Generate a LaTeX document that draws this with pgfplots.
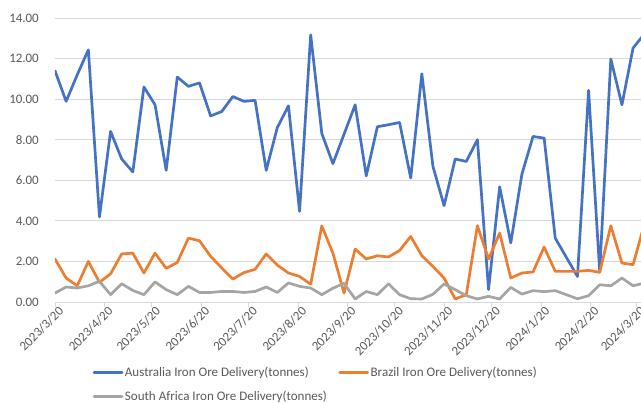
\documentclass[border=0pt]{standalone}
\usepackage{fontspec}
\setmainfont{Carlito}
\usepackage{pgfplots}
\pgfplotsset{compat=1.18}
\definecolor{cAU}{HTML}{4472C4}
\definecolor{cBR}{HTML}{ED7D31}
\definecolor{cZA}{HTML}{A5A5A5}
\definecolor{cGrid}{HTML}{D9D9D9}
\definecolor{cTxt}{HTML}{595959}
\newcommand{\fs}{\fontsize{13}{14}\selectfont}
\newcommand{\fl}{\fontsize{13.1}{15}\selectfont}
\begin{document}
\begin{tikzpicture}
\begin{axis}[
  name=ax,
  scale only axis,
  width=586bp, height=284bp,
  xmin=0, xmax=369,
  ymin=0, ymax=14,
  ytick={0,2,...,14},
  xtick={0,31,61,92,122,153,184,214,245,275,306,337,366},
  xticklabels={2023/3/20,2023/4/20,2023/5/20,2023/6/20,2023/7/20,2023/8/20,2023/9/20,2023/10/20,2023/11/20,2023/12/20,2024/1/20,2024/2/20,2024/3/20},
  axis line style={draw=none},
  axis x line*=bottom,
  axis y line*=left,
  ymajorgrids,
  grid style={cGrid, line width=0.75bp},
  tick align=outside,
  xtick style={cGrid, line width=0.75bp},
  major tick length=5bp,
  ytick style={draw=none},
  /pgf/number format/assume math mode=true,
  /pgf/number format/.cd, fixed, fixed zerofill, precision=2, /pgfplots/.cd,
  tick label style={font=\fs, text=cTxt},
  yticklabel style={inner sep=0pt, xshift=-11bp},
  xticklabel style={rotate=45, anchor=east, inner sep=0pt, xshift=3bp, yshift=-6bp},
  legend columns=2,
  legend cell align=left,
  legend style={draw=none, fill=none, font=\fl, text=cTxt,
    at={(axis description cs:0.064,-0.222)}, anchor=north west,
    inner sep=0pt, row sep=10.5bp,
    nodes={inner sep=1.5bp},
    /tikz/every even column/.append style={column sep=10bp}},
  legend image code/.code={\draw[#1] (0bp,0bp) -- (28bp,0bp);},
  every axis plot/.append style={line width=2.7bp, line join=round, line cap=round},
]
\addplot[cAU] coordinates {
(0,11.40)(7,9.89)(14,11.2)(21,12.43)(28,4.19)(35,8.41)(42,7.05)(49,6.41)(56,10.6)(63,9.72)
(70,6.49)(77,11.09)(84,10.63)(91,10.8)(98,9.17)(105,9.39)(112,10.13)(119,9.89)(126,9.94)(133,6.49)
(140,8.6)(147,9.67)(154,4.47)(161,13.17)(168,8.31)(175,6.82)(182,8.27)(189,9.72)(196,6.22)(203,8.64)
(210,8.74)(217,8.85)(224,6.11)(231,11.25)(238,6.68)(245,4.75)(252,7.05)(259,6.93)(266,8.0)(273,0.62)
(280,5.68)(287,2.91)(294,6.3)(301,8.16)(308,8.08)(315,3.15)(322,2.2)(329,1.26)(336,10.43)(343,1.5)
(350,11.98)(357,9.72)(364,12.52)(371,13.2)
};
\addlegendentry{Australia Iron Ore Delivery(tonnes)}
\addplot[cBR] coordinates {
(0,2.12)(7,1.18)(14,0.80)(21,2.0)(28,0.97)(35,1.39)(42,2.37)(49,2.41)(56,1.43)(63,2.41)
(70,1.66)(77,1.95)(84,3.15)(91,3.02)(98,2.25)(105,1.68)(112,1.13)(119,1.45)(126,1.61)(133,2.37)
(140,1.82)(147,1.43)(154,1.26)(161,0.88)(168,3.75)(175,2.41)(182,0.44)(189,2.61)(196,2.12)(203,2.28)
(210,2.22)(217,2.54)(224,3.23)(231,2.28)(238,1.75)(245,1.18)(252,0.15)(259,0.36)(266,3.76)(273,2.12)
(280,3.40)(287,1.18)(294,1.43)(301,1.48)(308,2.71)(315,1.51)(322,1.51)(329,1.51)(336,1.56)(343,1.46)
(350,3.76)(357,1.92)(364,1.84)(371,3.8)
};
\addlegendentry{Brazil Iron Ore Delivery(tonnes)}
\addplot[cZA] coordinates {
(0,0.44)(7,0.74)(14,0.69)(21,0.80)(28,1.02)(35,0.36)(42,0.90)(49,0.57)(56,0.36)(63,0.99)
(70,0.61)(77,0.36)(84,0.77)(91,0.47)(98,0.47)(105,0.52)(112,0.52)(119,0.47)(126,0.52)(133,0.74)
(140,0.47)(147,0.94)(154,0.77)(161,0.69)(168,0.36)(175,0.68)(182,0.92)(189,0.15)(196,0.52)(203,0.36)
(210,0.90)(217,0.36)(224,0.16)(231,0.15)(238,0.38)(245,0.89)(252,0.61)(259,0.31)(266,0.15)(273,0.28)
(280,0.15)(287,0.72)(294,0.39)(301,0.56)(308,0.51)(315,0.56)(322,0.36)(329,0.16)(336,0.31)(343,0.85)
(350,0.80)(357,1.18)(364,0.80)(371,0.93)
};
\addlegendentry{South Africa Iron Ore Delivery(tonnes)}
\end{axis}
\pgfresetboundingbox
\path[use as bounding box] ([shift={(-55bp,-101bp)}]ax.south west) rectangle ([shift={(0bp,18bp)}]ax.north east);
\end{tikzpicture}
\end{document}
